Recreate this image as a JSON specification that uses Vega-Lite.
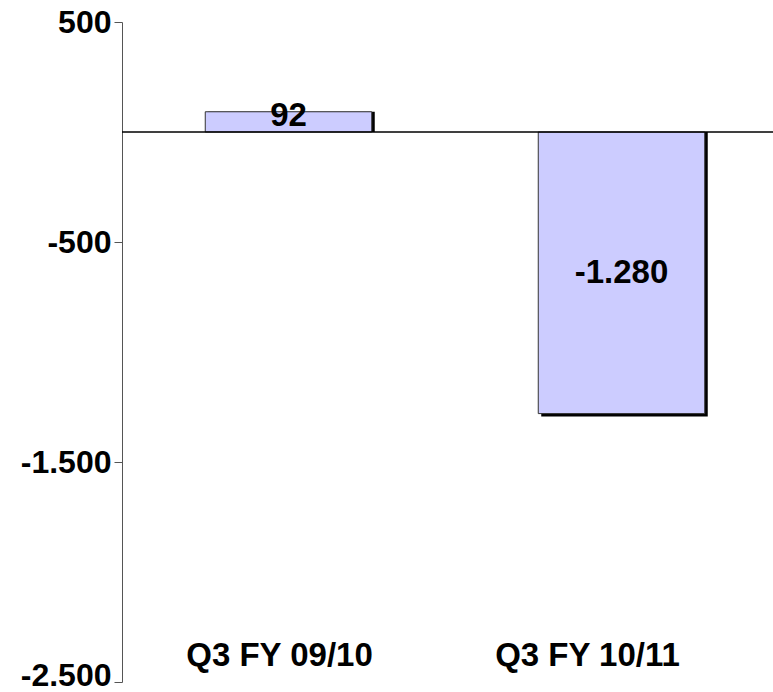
{
  "$schema": "https://vega.github.io/schema/vega-lite/v6.json",
  "width": 666,
  "height": 660,
  "autosize": {"type": "none"},
  "padding": {"left": 122, "top": 22, "right": 0, "bottom": 10},
  "background": "white",
  "config": {
    "locale": {"number": {"decimal": ",", "thousands": ".", "grouping": [3], "currency": ["", ""], "minus": "-"}},
    "view": {"stroke": null},
    "font": "Liberation Sans"
  },
  "data": {"values": [
    {"period": "Q3 FY 09/10", "value": 92},
    {"period": "Q3 FY 10/11", "value": -1280}
  ]},
  "layer": [
    {
      "mark": {"type": "bar", "color": "black", "xOffset": 3, "yOffset": {"expr": "datum.value < 0 ? 3 : 0"}},
      "encoding": {
        "x": {"field": "period", "type": "nominal", "sort": null, "scale": {"paddingInner": 0.5, "paddingOuter": 0.25},
          "axis": {"title": null, "orient": "bottom", "domain": false, "ticks": false, "tickSize": 0, "labelPadding": -17, "labelBaseline": "alphabetic", "labelAngle": 0, "labelLimit": 0, "labelFont": "Liberation Sans", "labelFontSize": 33, "labelFontWeight": "bold", "labelColor": "black", "labelOffset": {"condition": {"test": "datum.value === 'Q3 FY 10/11'", "value": -34}, "value": -9}}},
        "y": {"field": "value", "type": "quantitative", "scale": {"domain": [-2500, 500], "nice": false, "zero": false},
          "axis": {"title": null, "values": [500, -500, -1500, -2500], "format": ",.0f", "grid": false, "domainColor": "#555555", "tickColor": "#555555", "tickSize": 8, "labelPadding": 3, "labelFont": "Liberation Sans", "labelFontSize": 32, "labelFontWeight": "bold", "labelColor": "black", "labelFlush": false, "labelOverlap": false, "labelBound": false, "labelOffset": {"condition": {"test": "datum.value === -2500", "value": -7}, "value": 0}}},
        "y2": {"datum": 0}
      }
    },
    {
      "mark": {"type": "bar", "fill": "#CCCCFF", "stroke": "#333333", "strokeWidth": 1},
      "encoding": {
        "x": {"field": "period", "type": "nominal", "sort": null},
        "y": {"field": "value", "type": "quantitative"},
        "y2": {"datum": 0}
      }
    },
    {
      "mark": {"type": "rule", "color": "black", "strokeWidth": 1},
      "encoding": {"y": {"datum": 0}}
    },
    {
      "transform": [{"calculate": "datum.value / 2", "as": "mid"}],
      "mark": {"type": "text", "font": "Liberation Sans", "fontSize": 33, "fontWeight": "bold", "color": "black", "baseline": "middle", "align": "center", "dy": {"expr": "datum.value > 0 ? -6 : 0"}},
      "encoding": {
        "x": {"field": "period", "type": "nominal", "sort": null},
        "y": {"field": "mid", "type": "quantitative"},
        "text": {"field": "value", "type": "quantitative", "format": ",.0f"}
      }
    }
  ]
}
